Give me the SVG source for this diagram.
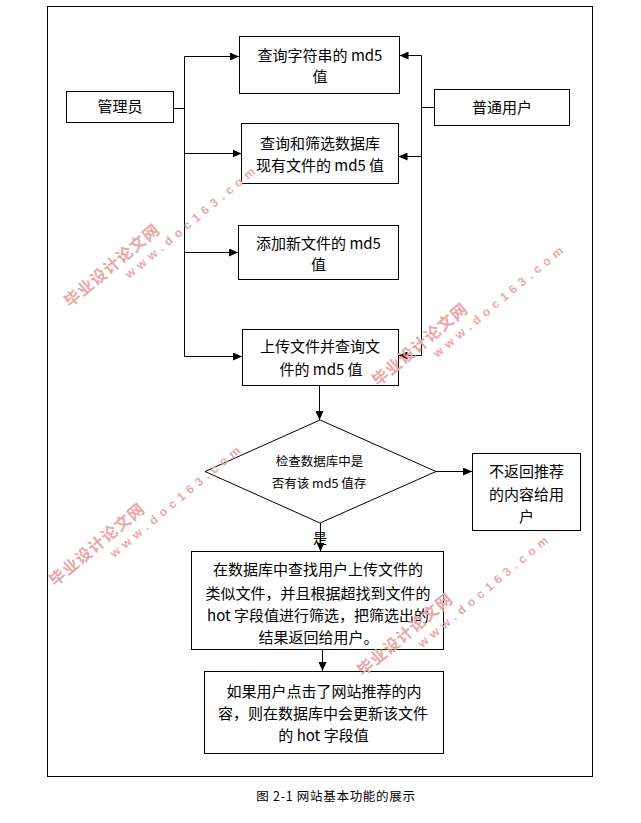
<svg xmlns="http://www.w3.org/2000/svg" width="641" height="823" viewBox="0 0 641 823">
<style>
.box{fill:#fff;stroke:#000;stroke-width:1}
.ln{fill:none;stroke:#000;stroke-width:1}
.ar{fill:none;stroke:#000;stroke-width:1;marker-end:url(#arr)}
.t{font-family:"Noto Sans CJK SC","Noto Sans",sans-serif;font-size:15px;fill:#000;text-anchor:middle}
.ts{font-family:"Noto Sans CJK SC","Noto Sans",sans-serif;font-size:12.5px;fill:#000;text-anchor:middle}
.cap{font-family:"Noto Sans CJK SC","Noto Sans",sans-serif;font-size:12.5px;letter-spacing:0.7px;fill:#000;text-anchor:middle}
.wmc{font-family:"Noto Sans CJK SC",sans-serif;font-size:16px;font-weight:bold;letter-spacing:1px;fill:#e8a8a8}
.wmu{font-family:"Liberation Sans",sans-serif;font-size:12px;font-weight:bold;letter-spacing:5px;fill:#e8a8a8}
</style>
<defs>
<marker id="arr" markerWidth="9" markerHeight="8" refX="9" refY="4" orient="auto" markerUnits="userSpaceOnUse">
<path d="M0,0 L9,4 L0,8 z" fill="#000"/>
</marker>
</defs>
<rect x="0" y="0" width="641" height="823" fill="#fff"/>
<rect id="frame" class="ln" x="47.5" y="6.5" width="545" height="770"/>

<g id="connectors">
<path class="ln" d="M174,108.5 H184.5"/>
<path class="ln" d="M184.5,56.5 V356.5"/>
<path class="ar" d="M184.5,56.5 H239"/>
<path class="ar" d="M184.5,153.5 H241.5"/>
<path class="ar" d="M184.5,252.5 H238"/>
<path class="ar" d="M184.5,356.5 H242"/>
<path class="ln" d="M434,107.5 H421.5"/>
<path class="ln" d="M421.5,55.5 V355.5"/>
<path class="ar" d="M421.5,55.5 H399.5"/>
<path class="ar" d="M421.5,156.5 H398.5"/>
<path class="ar" d="M421.5,355.5 H398.5"/>
<path class="ar" d="M319.5,385 V420"/>
<path class="ar" d="M436,471.5 H472"/>
<path class="ar" d="M320.5,523 V551.5"/>
<text class="t" x="320" y="543" style="font-size:14px">是</text>
<path class="ar" d="M322.5,649.5 V671"/>
</g>

<g id="admin">
<rect class="box" x="66.5" y="91.5" width="107" height="31"/>
<text class="t" x="120" y="112">管理员</text>
</g>
<g id="user">
<rect class="box" x="434.5" y="89.5" width="135" height="36"/>
<text class="t" x="502" y="112.5">普通用户</text>
</g>
<g id="query-string">
<rect class="box" x="239.5" y="36.5" width="160" height="57"/>
<text class="t" x="320" y="61">查询字符串的 md5</text>
<text class="t" x="320" y="82">值</text>
</g>
<g id="query-filter">
<rect class="box" x="241.5" y="123.5" width="157" height="60"/>
<text class="t" x="320" y="148.5">查询和筛选数据库</text>
<text class="t" x="320" y="171">现有文件的 md5 值</text>
</g>
<g id="add-file">
<rect class="box" x="238.5" y="225.5" width="160" height="54"/>
<text class="t" x="318.5" y="248.5">添加新文件的 md5</text>
<text class="t" x="318.5" y="270">值</text>
</g>
<g id="upload">
<rect class="box" x="242.5" y="329.5" width="156" height="56"/>
<text class="t" x="320" y="352">上传文件并查询文</text>
<text class="t" x="321" y="375">件的 md5 值</text>
</g>
<g id="check">
<path class="box" d="M320,420 L436,471.5 L320,523 L205,471.5 Z"/>
<text class="ts" x="319.5" y="466">检查数据库中是</text>
<text class="ts" x="319" y="487.5">否有该 md5 值存</text>
</g>
<g id="no-return">
<rect class="box" x="472.5" y="453.5" width="108" height="77"/>
<text class="t" x="526.5" y="477">不返回推荐</text>
<text class="t" x="526.5" y="500">的内容给用</text>
<text class="t" x="526.5" y="522">户</text>
</g>
<g id="search">
<rect class="box" x="191.5" y="551.5" width="252" height="98"/>
<text class="t" x="318" y="575">在数据库中查找用户上传文件的</text>
<text class="t" x="318" y="598.5">类似文件，并且根据超找到文件的</text>
<text class="t" x="318" y="621">hot 字段值进行筛选，把筛选出的</text>
<text class="t" x="318.5" y="643">结果返回给用户。</text>
</g>
<g id="update">
<rect class="box" x="204.5" y="671.5" width="239" height="82"/>
<text class="t" x="324" y="697">如果用户点击了网站推荐的内</text>
<text class="t" x="323" y="719">容，则在数据库中会更新该文件</text>
<text class="t" x="323.5" y="741">的 hot 字段值</text>
</g>

<text id="caption" class="cap" x="336" y="801">图 2-1 网站基本功能的展示</text>

<g id="watermarks">
<g transform="translate(70,308) rotate(-40)">
<text class="wmc" x="0" y="0">毕业设计论文网</text>
<text class="wmu" x="64" y="16">www.doc163.com</text>
</g>
<g transform="translate(378,387) rotate(-40)">
<text class="wmc" x="0" y="0">毕业设计论文网</text>
<text class="wmu" x="64" y="16">www.doc163.com</text>
</g>
<g transform="translate(55,587) rotate(-40)">
<text class="wmc" x="0" y="0">毕业设计论文网</text>
<text class="wmu" x="64" y="16">www.doc163.com</text>
</g>
<g transform="translate(363,677) rotate(-40)">
<text class="wmc" x="0" y="0">毕业设计论文网</text>
<text class="wmu" x="64" y="16">www.doc163.com</text>
</g>
</g>
</svg>
